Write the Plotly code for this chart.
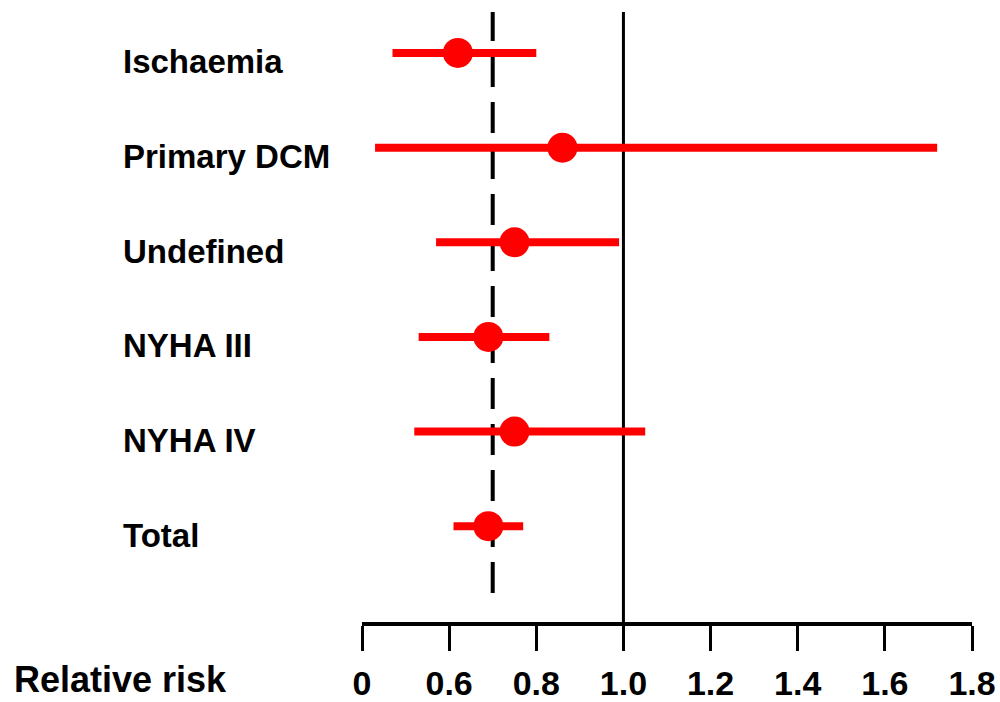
import plotly.graph_objects as go

# ---- data ----
categories = ["Ischaemia", "Primary DCM", "Undefined", "NYHA III", "NYHA IV", "Total"]
rr = [0.62, 0.86, 0.75, 0.69, 0.75, 0.69]
ci_low = [0.47, 0.43, 0.57, 0.53, 0.52, 0.61]
ci_high = [0.80, 1.72, 0.99, 0.83, 1.05, 0.77]
tick_vals = [0.4, 0.6, 0.8, 1.0, 1.2, 1.4, 1.6, 1.8]
tick_text = ["0", "0.6", "0.8", "1.0", "1.2", "1.4", "1.6", "1.8"]
ref_null = 1.0
ref_total = 0.7

FONT = "Liberation Sans, Arial, sans-serif"
W, H = 1000, 702
ML, MR, MT, MB = 362, 28, 12, 80
PW = W - ML - MR
PH = H - MT - MB

fig = go.Figure()
fig.add_trace(go.Scatter(
    x=rr, y=categories, mode="markers",
    marker=dict(color="#FF0000", size=30, line=dict(width=0)),
    error_x=dict(type="data", symmetric=False,
                 array=[h - v for h, v in zip(ci_high, rr)],
                 arrayminus=[v - l for v, l in zip(rr, ci_low)],
                 color="#FF0000", thickness=8, width=0),
    showlegend=False, hoverinfo="skip",
))

# reference lines
fig.add_shape(type="line", xref="x", yref="paper", x0=ref_null, x1=ref_null,
              y0=0, y1=1, line=dict(color="black", width=3), layer="below")
fig.add_shape(type="line", xref="x", yref="paper", x0=ref_total, x1=ref_total,
              y0=(622 - 593) / PH, y1=1,
              line=dict(color="black", width=4, dash="31px,15px"), layer="below")

# row labels (left aligned)
for c in categories:
    fig.add_annotation(text=c, xref="paper", yref="y", x=(121 - ML) / PW, y=c,
                       xanchor="left", yanchor="middle", yshift=-9, showarrow=False,
                       font=dict(family=FONT, size=33, color="black", weight="bold"))

fig.add_annotation(text="Relative risk", xref="paper", yref="paper",
                   x=(12 - ML) / PW, y=(622 - 679) / PH, xanchor="left", yanchor="middle",
                   showarrow=False,
                   font=dict(family=FONT, size=36, color="black", weight="bold"))

fig.update_layout(
    width=W, height=H,
    margin=dict(l=ML, r=MR, t=MT, b=MB, autoexpand=False),
    paper_bgcolor="white", plot_bgcolor="white",
    xaxis=dict(range=[0.4, 1.8], tickvals=tick_vals, ticktext=tick_text,
               showgrid=False, zeroline=False, showline=True, linecolor="black",
               linewidth=4, ticks="outside", ticklen=25, tickwidth=3, tickcolor="black",
               ticklabelstandoff=3, automargin=False,
               tickfont=dict(family=FONT, size=34, color="black", weight="bold"),
               fixedrange=True),
    yaxis=dict(range=[6.012, -0.433], showgrid=False, zeroline=False, automargin=False,
               showticklabels=False, showline=False, ticks="", fixedrange=True),
)

fig.write_html("out.html")
